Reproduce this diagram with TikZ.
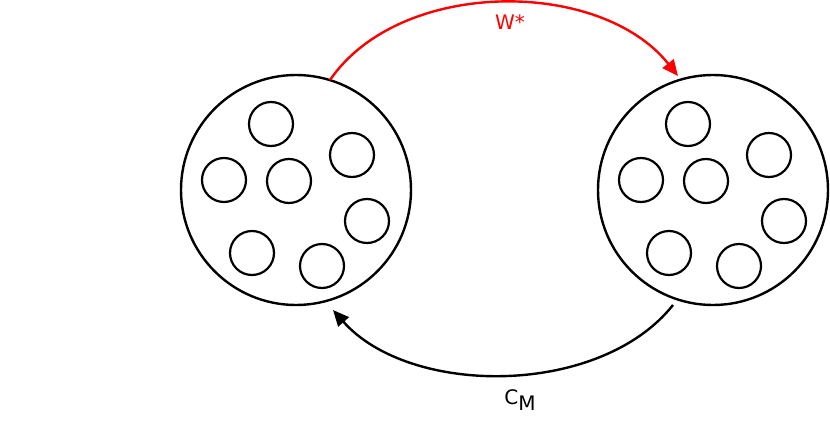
\documentclass[tikz,border=0pt]{standalone}
\usepackage{fontspec}
\setmainfont{DejaVu Sans}
\usetikzlibrary{arrows.meta}
\begin{document}
\begin{tikzpicture}[x=1pt,y=-1pt,
  big/.style={circle,draw,line width=2.4pt,minimum size=230pt,inner sep=0pt},
  small/.style={circle,draw,line width=2.2pt,minimum size=44pt,inner sep=0pt},
  conn/.style={line width=2.4pt,-{Triangle[length=16pt,width=14pt]}}]
\useasboundingbox (0,0) rectangle (830,423);
\node[big] (L) at (296,190) {};
\node[big] (R) at (713,190) {};
\foreach \n/\x/\y in {a/271/124,b/352/155,c/224/180,d/289/181,e/367/221,f/252/253,g/322/266}{
  \node[small] (L\n) at (\x,\y) {};
  \node[small] (R\n) at (\x+417,\y) {};
}
\coordinate (rs) at (330,80);
\coordinate (re) at (678,76);
\coordinate (bs) at (673,305);
\coordinate (be) at (333,310);
\draw[conn,red] (rs) .. controls (400,-22) and (600,-22) .. (re);
\draw[conn,black] (bs) .. controls (600,397) and (410,397) .. (be);
\node[red,font=\fontsize{20pt}{20pt}\selectfont] (w) at (510,22) {W*};
\node[font=\fontsize{20pt}{20pt}\selectfont] (c) at (520,400) {C\raisebox{-6pt}{M}};
\end{tikzpicture}
\end{document}
